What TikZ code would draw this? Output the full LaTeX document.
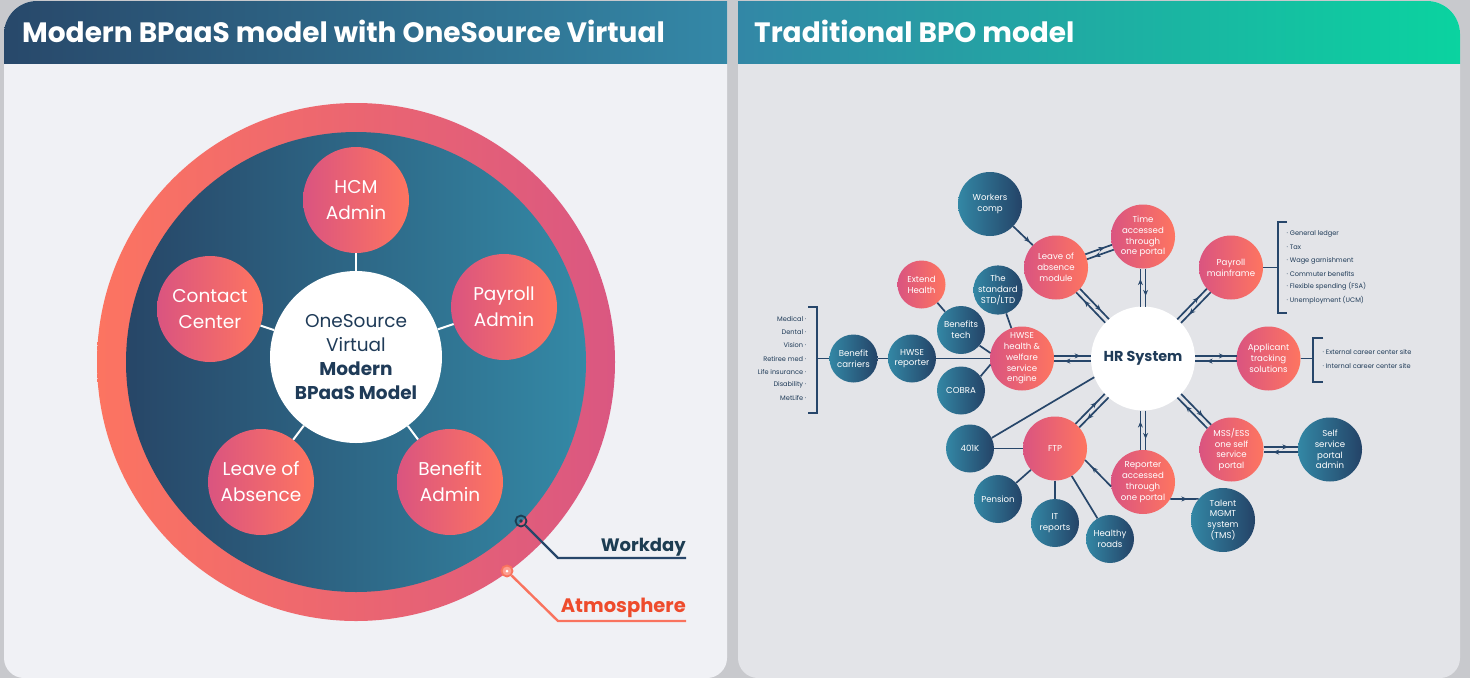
\documentclass[tikz,border=0pt]{standalone}
\usepackage{fontspec}
\setmainfont{Poppins}
\usetikzlibrary{calc,decorations.markings,arrows.meta}
\definecolor{pagebg}{HTML}{C8C9CD}
\definecolor{lbody}{HTML}{F0F1F5}
\definecolor{rbody}{HTML}{E3E4E8}
\definecolor{hdrLa}{HTML}{28486A}
\definecolor{hdrLb}{HTML}{3489A8}
\definecolor{hdrRa}{HTML}{3386A6}
\definecolor{hdrRb}{HTML}{0AD4A0}
\definecolor{ringL}{HTML}{FC7461}
\definecolor{ringR}{HTML}{DA5781}
\definecolor{innL}{HTML}{274667}
\definecolor{innR}{HTML}{3489A6}
\definecolor{cpink}{HTML}{DA5480}
\definecolor{corange}{HTML}{FE7560}
\definecolor{cmid}{HTML}{F56B68}
\definecolor{dteal}{HTML}{3387A5}
\definecolor{dnavy}{HTML}{244367}
\definecolor{lnavy}{HTML}{27466A}
\definecolor{tnavy}{HTML}{1F3B58}
\definecolor{wdnavy}{HTML}{1D3D52}
\definecolor{atm}{HTML}{EE4B2C}
\definecolor{atmline}{HTML}{F9735E}
\newcommand\fTitle{\fontsize{28}{32}\selectfont\bfseries}
\newcommand\fPent{\fontsize{18.5}{26}\selectfont}
\newcommand\fCen{\fontsize{18.5}{24}\selectfont}
\newcommand\fNode{\fontsize{8.6}{10.8}\selectfont}
\newcommand\fItem{\fontsize{6.6}{8}\selectfont}
\newcommand\fHR{\fontsize{14.4}{16}\selectfont\bfseries}
\newcommand\fWD{\fontsize{18}{22}\selectfont\bfseries}
\newcommand\fAT{\fontsize{19.5}{22}\selectfont\bfseries}
\tikzset{
  pent/.style={circle, inner sep=0pt, minimum size=106pt, left color=cpink, middle color=cmid, right color=corange, text=white, align=center, font=\fPent},
  coral/.style={circle, inner sep=0pt, left color=cpink, middle color=cmid, right color=corange, text=white, align=center, font=\fNode},
  dark/.style={circle, inner sep=0pt, left color=dteal, right color=dnavy, text=white, align=center, font=\fNode},
  bignode/.style={minimum size=64pt},
  smallnode/.style={minimum size=48pt},
  conn/.style={draw=lnavy, line width=1.7pt},
  wline/.style={draw=white, line width=2pt},
  item/.style={inner sep=0pt, text=tnavy, font=\fItem},
  arrat/.style={decoration={markings, mark=at position #1 with {\arrow{Stealth[length=6pt,width=5pt]}}}, postaction={decorate}},
}
\newcommand\dbl[4]{%
  \draw[conn, arrat=0.72] ($($(#1)!#3!(#2)$)!2.6pt!90:(#2)$) -- ($($(#2)!#4!(#1)$)!2.6pt!-90:(#1)$);
  \draw[conn, arrat=0.72] ($($(#2)!#4!(#1)$)!2.6pt!90:(#1)$) -- ($($(#1)!#3!(#2)$)!2.6pt!-90:(#2)$);
}
\begin{document}
\begin{tikzpicture}[x=1pt,y=-1pt]
\useasboundingbox (0,0) rectangle (1470,678);
\fill[pagebg] (0,0) rectangle (1470,678);
% ---------- left panel
\begin{scope}
\clip (727,1) -- (37,1) .. controls (18.8,1) and (4,15.8) .. (4,34) -- (4,658) .. controls (4,669) and (13,678) .. (24,678) -- (707,678) .. controls (718,678) and (727,669) .. (727,658) -- cycle;
\fill[lbody] (0,0) rectangle (740,678);
\shade[left color=hdrLa, right color=hdrLb] (0,0) rectangle (740,63);
\end{scope}
% ---------- right panel
\begin{scope}
\clip (738,1) -- (1427,1) .. controls (1445.2,1) and (1460,15.8) .. (1460,34) -- (1460,658) .. controls (1460,669) and (1451,678) .. (1440,678) -- (758,678) .. controls (747,678) and (738,669) .. (738,658) -- cycle;
\fill[rbody] (730,0) rectangle (1470,678);
\shade[left color=hdrRa, right color=hdrRb] (730,0) rectangle (1470,63);
\end{scope}
\node[anchor=base west, inner sep=0pt, text=white, font=\fTitle] (ltitle) at (22,42) {Modern BPaaS model with OneSource Virtual};
\node[anchor=base west, inner sep=0pt, text=white, font=\fTitle] (rtitle) at (754,42) {Traditional BPO model};
% ---------- left diagram
\shade[left color=ringL, right color=ringR] (356,362) circle[radius=259pt];
\shade[left color=innL, right color=innR] (356,362) circle[radius=230pt];
\node[circle, fill=white, minimum size=172pt, inner sep=0pt, align=center, text=tnavy, font=\fCen] (cen) at (356,357) {OneSource\\Virtual\\{\bfseries Modern}\\{\bfseries BPaaS Model}};
\node[pent] (hcm) at (356,200) {HCM\\Admin};
\node[pent] (payadm) at (504,307) {Payroll\\Admin};
\node[pent] (benadm) at (450,482) {Benefit\\Admin};
\node[pent] (leaveabs) at (261,482) {Leave of\\Absence};
\node[pent] (contact) at (210,309) {Contact\\Center};
\foreach \n in {hcm,payadm,benadm,leaveabs,contact} \draw[wline] (cen) -- (\n);
% Workday / Atmosphere
\node[circle, draw=wdnavy, line width=1.8pt, minimum size=11pt, inner sep=0pt] (wdm) at (521,521) {};
\fill[wdnavy] (wdm.center) circle[radius=1.8pt];
\coordinate (wdk) at (558,558);
\coordinate (wde) at (686,558);
\draw[draw=lnavy, line width=2.2pt] (wdm) -- (wdk) -- (wde);
\node[anchor=base east, inner sep=0pt, text=wdnavy, font=\fWD] (wdt) at (686,551) {Workday};
\node[circle, draw=atmline, fill=ringL!70!white, line width=1.8pt, minimum size=11pt, inner sep=0pt] (atmm) at (507,571) {};
\fill[white] (atmm.center) circle[radius=1.5pt];
\coordinate (atk) at (558,621);
\coordinate (ate) at (686,621);
\draw[draw=atmline, line width=2.4pt] (atmm) -- (atk) -- (ate);
\node[anchor=base east, inner sep=0pt, text=atm, font=\fAT] (atmt) at (686,612) {Atmosphere};
% ---------- right diagram nodes
\node[circle, fill=white, minimum size=104pt, inner sep=0pt, text=tnavy, font=\fHR] (hr) at (1143,358.5) {HR System};
\node[dark,bignode] (wc) at (990,204) {Workers\\comp};
\node[coral,bignode] (loa) at (1056,267.5) {Leave of\\absence\\module};
\node[coral,bignode] (time) at (1143,236.5) {Time\\accessed\\through\\one portal};
\node[coral,bignode] (pay) at (1231,267.5) {Payroll\\mainframe};
\node[coral,bignode] (ats) at (1268.5,358.5) {Applicant\\tracking\\solutions};
\node[coral,bignode] (mss) at (1231.5,449.5) {MSS/ESS\\one self\\service\\portal};
\node[dark,bignode] (ssp) at (1330,449.5) {Self\\service\\portal\\admin};
\node[coral,bignode] (rep) at (1143,482) {Reporter\\accessed\\through\\one portal};
\node[dark,bignode] (tms) at (1223,520) {Talent\\MGMT\\system\\(TMS)};
\node[coral,bignode] (ftp) at (1055,448.5) {FTP};
\node[dark,smallnode] (k401) at (970,448.5) {401K};
\node[dark,smallnode] (pen) at (998,499) {Pension};
\node[dark,smallnode] (itr) at (1055,523) {IT\\reports};
\node[dark,smallnode] (hroads) at (1110,539) {Healthy\\roads};
\node[coral,bignode] (hwse) at (1022,358.5) {HWSE\\health \&\\welfare\\service\\engine};
\node[dark,smallnode] (cobra) at (961,390.5) {COBRA};
\node[dark,smallnode] (btech) at (961,330) {Benefits\\tech};
\node[dark,smallnode] (std) at (998,290) {The\\standard\\STD/LTD};
\node[coral,smallnode] (ext) at (921.5,284.5) {Extend\\Health};
\node[dark,smallnode] (hrep) at (912,358.5) {HWSE\\reporter};
\node[dark,smallnode] (bcar) at (853.5,358.5) {Benefit\\carriers};
% ---------- right diagram connectors
\dbl{hwse}{hr}{32pt}{52pt}
\dbl{hr}{ats}{52pt}{32pt}
\dbl{loa}{hr}{32pt}{52pt}
\dbl{loa}{time}{32pt}{32pt}
\dbl{time}{hr}{32pt}{52pt}
\dbl{hr}{pay}{52pt}{32pt}
\dbl{hr}{mss}{52pt}{32pt}
\dbl{mss}{ssp}{32pt}{32pt}
\dbl{hr}{rep}{52pt}{32pt}
\dbl{hr}{ftp}{52pt}{32pt}
\draw[conn, arrat=0.85] (wc) -- (loa);
\draw[conn, arrat=0.74] (rep.188) -- (ftp.-21);
\draw[conn, arrat=0.6] (rep.-32) -- (tms.139);
\draw[conn] (hr.201) -- (k401.26);
\draw[conn] (k401) -- (ftp);
\draw[conn] (ftp) -- (pen);
\draw[conn] (ftp) -- (itr);
\draw[conn] (ftp) -- (hroads);
\draw[conn] (btech.-40) -- (hwse.170);
\draw[conn] (cobra.36) -- (hwse.191);
\draw[conn] (std) -- (hwse);
\draw[conn] (ext) -- (btech);
\draw[conn] (hrep) -- (hwse);
\draw[conn] (bcar) -- (hrep);
% brackets
\coordinate (lbr) at (816.8,358.5);
\draw[conn] (808.4,306.7) -- (816.8,306.7) -- (816.8,412.7) -- (808.4,412.7);
\draw[conn] (lbr) -- (bcar);
\coordinate (pbr) at (1277.7,267.5);
\draw[conn] (1287,221.7) -- (1277.7,221.7) -- (1277.7,313.3) -- (1287,313.3);
\draw[conn] (pay) -- (pbr);
\coordinate (abr) at (1313.3,358.5);
\draw[conn] (1323.3,337.7) -- (1313.3,337.7) -- (1313.3,381.7) -- (1323.3,381.7);
\draw[conn] (ats) -- (abr);
\foreach \t [count=\i] in {Medical,Dental,Vision,Retiree med,Life insurance,Disability,MetLife}
  \node[item, anchor=east] (bl\i) at (806.5,305.8+13.2*\i) {\t~·};
\foreach \t [count=\i] in {General ledger,Tax,Wage garnishment,Commuter benefits,Flexible spending (FSA),Unemployment (UCM)}
  \node[item, anchor=west] (pl\i) at (1286.5,220.8+13.2*\i) {·~\t};
\foreach \t [count=\i] in {External career center site,Internal career center site}
  \node[item, anchor=west] (al\i) at (1322.5,339+13.4*\i) {·~\t};
\end{tikzpicture}
\end{document}
